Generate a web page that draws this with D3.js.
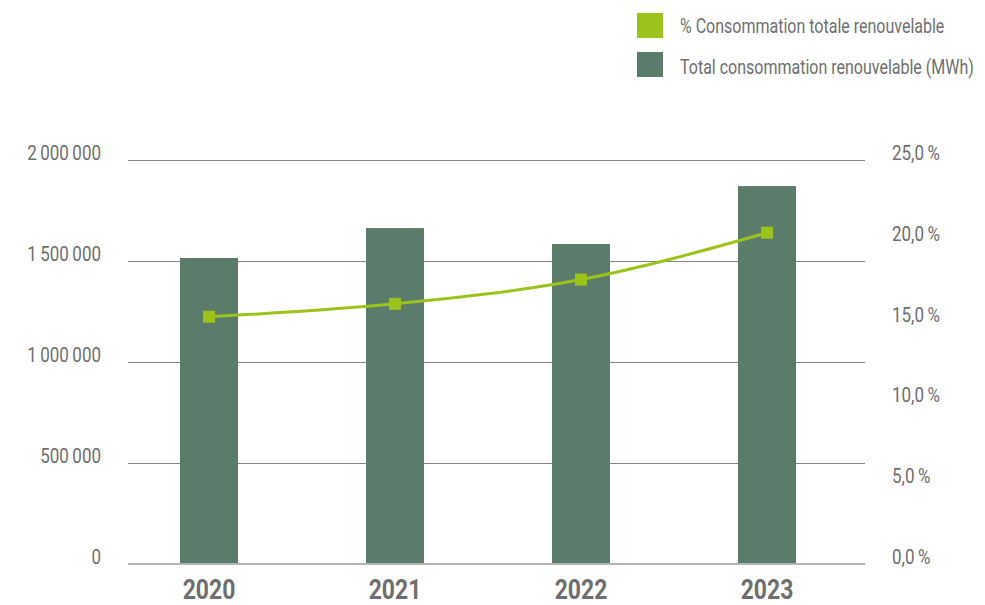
<!DOCTYPE html>
<html>
<head>
<meta charset="utf-8">
<script src="https://cdn.jsdelivr.net/npm/d3@7"></script>
<style>
  body { margin: 0; background: #fff; }
  svg { display: block; font-family: "Roboto", sans-serif; }
</style>
</head>
<body>
<div id="chart"></div>
<script>
// data
const years = ['2020', '2021', '2022', '2023'];
const totalMWh = [1515000, 1663000, 1584000, 1871000];
const pctRenouvelable = [15.3, 16.1, 17.6, 20.5];
const leftTicks = [0, 500000, 1000000, 1500000, 2000000];
const rightTicks = [0, 5, 10, 15, 20, 25];
const legendLabels = ['% Consommation totale renouvelable', 'Total consommation renouvelable (MWh)'];

const width = 985, height = 605;
const barColor = '#5b7c6b';
const lineColor = '#9bc31c';
const textColor = '#6e6e6e';
const squeeze = 0.85; // no condensed font installed, so narrow the glyphs

const svg = d3.select('#chart').append('svg')
  .attr('width', width)
  .attr('height', height);

// SCALES
const x = d3.scaleBand()
  .domain(years)
  .range([116, 860])
  .paddingInner(0.688)
  .paddingOuter(0.344);

const yLeft = d3.scaleLinear().domain([0, 2000000]).range([564, 160]);
const yRight = d3.scaleLinear().domain([0, 25]).range([564, 160]);

const fmtLeft = d => d3.format(',')(d).replace(/,/g, '\u2009');
const fmtRight = d => d3.format('.1f')(d).replace('.', ',') + '\u2009%';

const place = (px, py, s = squeeze) => `translate(${px},${py}) scale(${s},1)`;

// gridlines
svg.append('g')
  .selectAll('line')
  .data(leftTicks.filter(d => d > 0))
  .enter().append('line')
  .attr('x1', 128).attr('x2', 865)
  .attr('y1', d => yLeft(d) + 0.5).attr('y2', d => yLeft(d) + 0.5)
  .attr('stroke', '#858585')
  .attr('stroke-width', 1);

// bars
svg.append('g')
  .selectAll('rect')
  .data(years)
  .enter().append('rect')
  .attr('x', d => x(d))
  .attr('width', x.bandwidth())
  .attr('y', (d, i) => yLeft(totalMWh[i]))
  .attr('height', (d, i) => yLeft(0) - yLeft(totalMWh[i]))
  .attr('fill', barColor);

// baseline
svg.append('line')
  .attr('x1', 128).attr('x2', 865)
  .attr('y1', yLeft(0)).attr('y2', yLeft(0))
  .attr('stroke', '#b3b3b3')
  .attr('stroke-width', 2);

// left axis labels
svg.append('g')
  .selectAll('text')
  .data(leftTicks)
  .enter().append('text')
  .attr('transform', d => place(101, yLeft(d) - 7))
  .attr('dy', '0.35em')
  .attr('text-anchor', 'end')
  .attr('font-size', 20)
  .attr('fill', textColor)
  .text(fmtLeft);

// right axis labels
svg.append('g')
  .selectAll('text')
  .data(rightTicks)
  .enter().append('text')
  .attr('transform', d => place(892, yRight(d) - 7))
  .attr('dy', '0.35em')
  .attr('text-anchor', 'start')
  .attr('font-size', 20)
  .attr('fill', textColor)
  .text(fmtRight);

// x labels
svg.append('g')
  .selectAll('text')
  .data(years)
  .enter().append('text')
  .attr('transform', d => place(x(d) + x.bandwidth() / 2, 599))
  .attr('text-anchor', 'middle')
  .attr('font-size', 27)
  .attr('font-weight', 'bold')
  .attr('fill', textColor)
  .text(d => d);

// line
const line = d3.line()
  .x((d, i) => x(years[i]) + x.bandwidth() / 2)
  .y(d => yRight(d))
  .curve(d3.curveMonotoneX);

svg.append('path')
  .datum(pctRenouvelable)
  .attr('d', line)
  .attr('fill', 'none')
  .attr('stroke', lineColor)
  .attr('stroke-width', 3);

svg.append('g')
  .selectAll('rect')
  .data(pctRenouvelable)
  .enter().append('rect')
  .attr('x', (d, i) => x(years[i]) + x.bandwidth() / 2 - 6)
  .attr('y', d => yRight(d) - 6)
  .attr('width', 12)
  .attr('height', 12)
  .attr('fill', lineColor);

// legend (squeezed a bit more so the long label stays inside the frame)
const legend = svg.append('g');
const legendColors = [lineColor, barColor];
legendLabels.forEach((label, i) => {
  legend.append('rect')
    .attr('x', 637).attr('y', 13 + i * 39)
    .attr('width', 26).attr('height', 25)
    .attr('fill', legendColors[i]);
  legend.append('text')
    .attr('transform', place(680, 26 + i * 41, 0.8))
    .attr('dy', '0.35em')
    .attr('font-size', 20)
    .attr('fill', textColor)
    .text(label);
});
</script>
</body>
</html>
